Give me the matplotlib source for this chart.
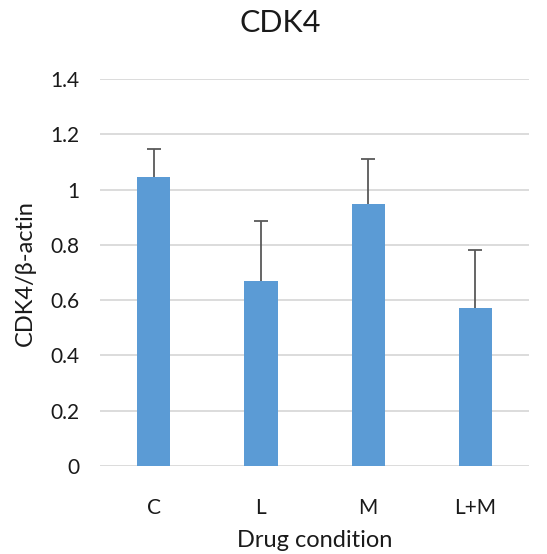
import matplotlib
matplotlib.use("Agg")
import matplotlib.pyplot as plt

conditions = ["C", "L", "M", "L+M"]
ratios = [1.047, 0.670, 0.950, 0.571]
errors = [0.100, 0.215, 0.160, 0.211]

y_ticks = [0, 0.2, 0.4, 0.6, 0.8, 1.0, 1.2, 1.4]
y_tick_labels = ["0", "0.2", "0.4", "0.6", "0.8", "1", "1.2", "1.4"]

BAR_COLOR = "#5B9BD5"
ERR_COLOR = "#595959"
GRID_COLOR = "#D9D9D9"
TEXT_COLOR = "#1a1a1a"

plt.rcParams["font.family"] = ["Lato", "DejaVu Sans"]


def main() -> None:
    fig = plt.figure(figsize=(5.47, 5.54), dpi=100)
    ax = fig.add_axes([0.183, 0.159, 0.784, 0.698])

    x = range(len(conditions))
    ax.bar(x, ratios, width=0.31, color=BAR_COLOR, zorder=3)
    _, caps, _ = ax.errorbar(
        x, ratios,
        yerr=[[0] * len(errors), errors],
        fmt="none", ecolor=ERR_COLOR, elinewidth=1.3,
        capsize=5, capthick=1.3, zorder=4,
    )
    # only the upper whisker is shown
    caps[0].set_visible(False)

    ax.set_xlim(-0.5, len(conditions) - 0.5)
    ax.set_ylim(0, 1.4)
    ax.set_yticks(y_ticks)
    ax.set_yticklabels(y_tick_labels)
    ax.set_xticks(list(x))
    ax.set_xticklabels(conditions)

    ax.yaxis.grid(True, color=GRID_COLOR, linewidth=1.3, zorder=0)
    ax.set_axisbelow(True)
    for side in ["top", "right", "left", "bottom"]:
        ax.spines[side].set_visible(False)

    ax.tick_params(axis="both", length=0, labelsize=15, colors=TEXT_COLOR)
    ax.tick_params(axis="y", pad=15)
    ax.tick_params(axis="x", pad=23)

    ax.set_xlabel("Drug condition", fontsize=17, color=TEXT_COLOR, labelpad=9)
    ax.set_ylabel("CDK4/\u03b2-actin", fontsize=17, color=TEXT_COLOR, labelpad=10)
    fig.text(0.512, 0.958, "CDK4", ha="center", va="center",
             fontsize=22, color=TEXT_COLOR)

    fig.savefig("out.png", dpi=100)
    plt.close(fig)


if __name__ == "__main__":
    main()
